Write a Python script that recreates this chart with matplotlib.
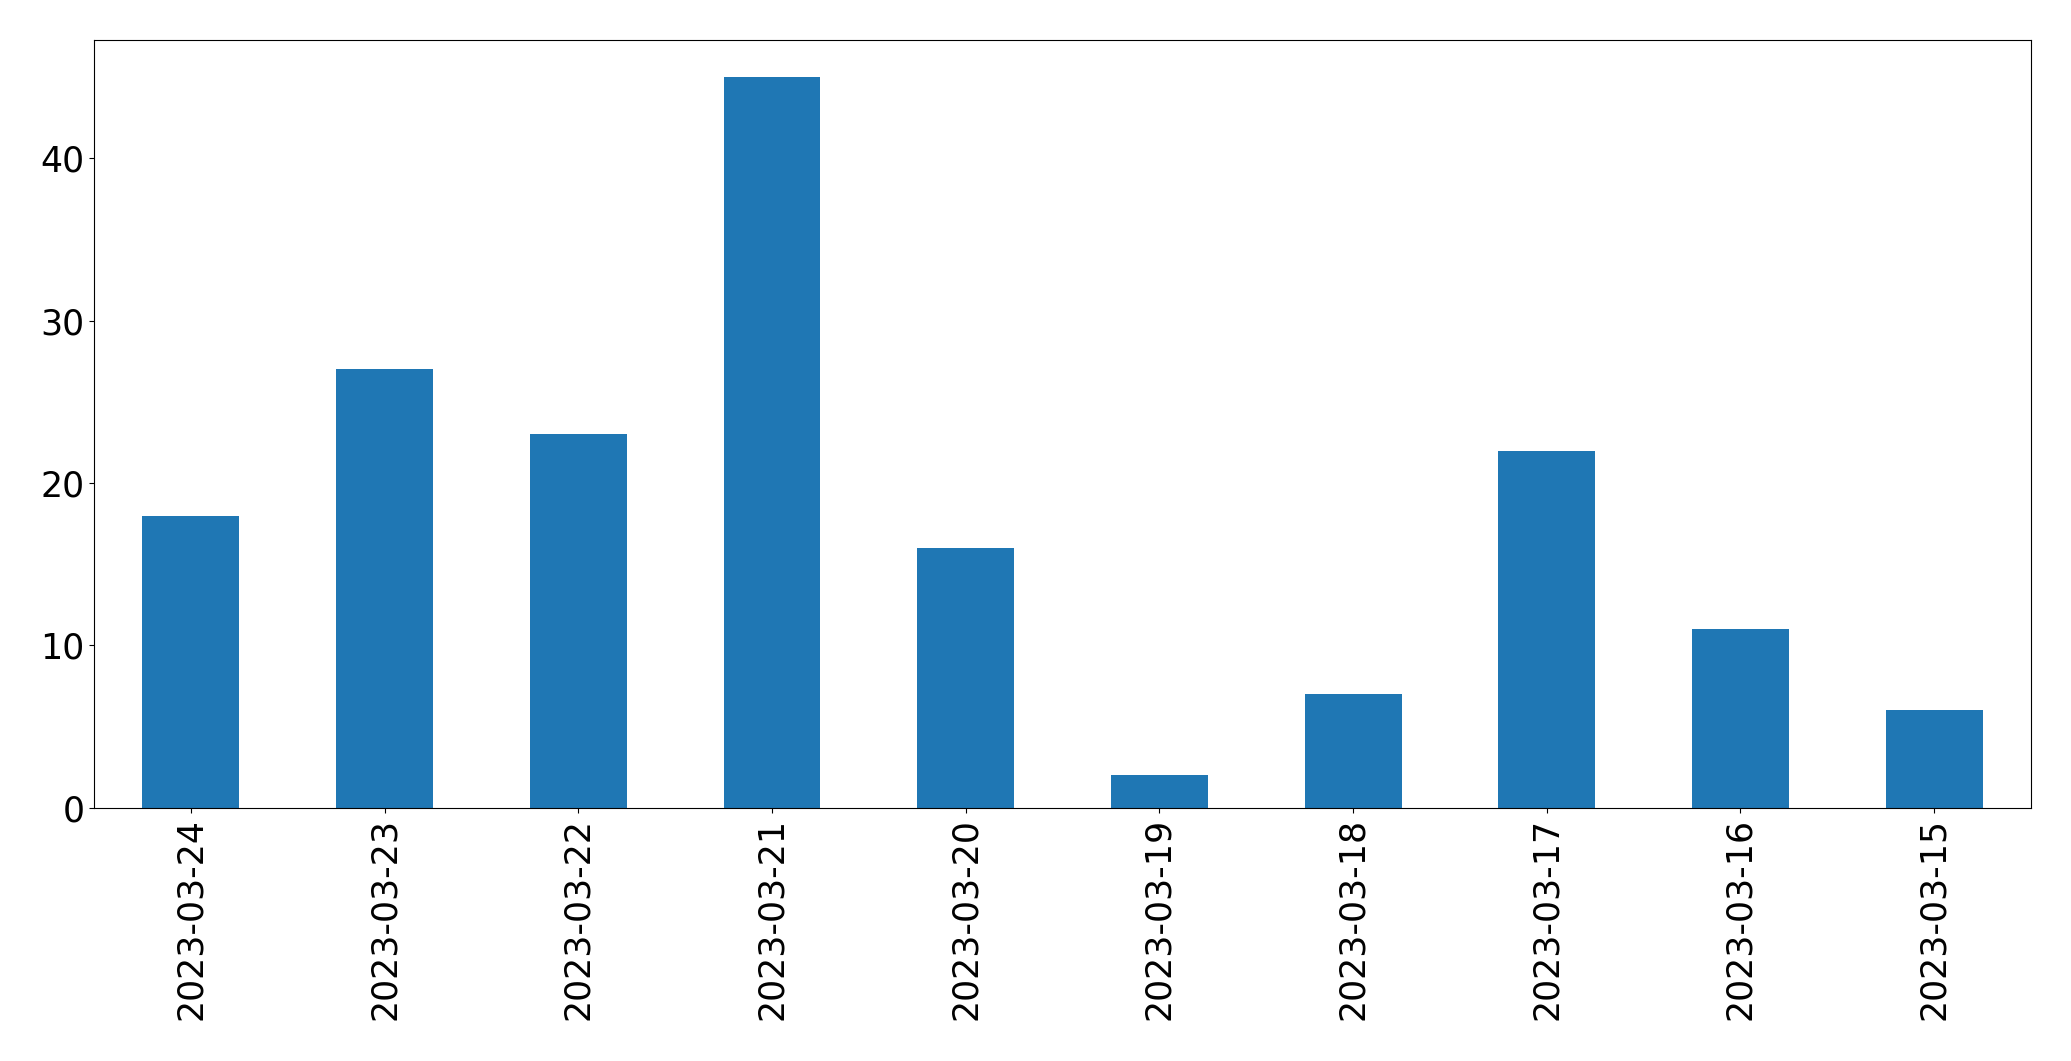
import pandas as pd
import matplotlib.pyplot as plt

# daily counts, newest first
dates = ['2023-03-24', '2023-03-23', '2023-03-22', '2023-03-21', '2023-03-20',
         '2023-03-19', '2023-03-18', '2023-03-17', '2023-03-16', '2023-03-15']
counts = [18, 27, 23, 45, 16, 2, 7, 22, 11, 6]

s = pd.Series(counts, index=dates)

fig = plt.figure(figsize=(20.71, 10.61), dpi=100)
ax = fig.add_axes([0.0454, 0.2385, 0.9353, 0.7235])
s.plot(kind='bar', ax=ax, color='#1f77b4')
ax.tick_params(axis='both', labelsize=25)
ax.set_xlabel('')

fig.savefig('out.png', dpi=100)
plt.close(fig)
